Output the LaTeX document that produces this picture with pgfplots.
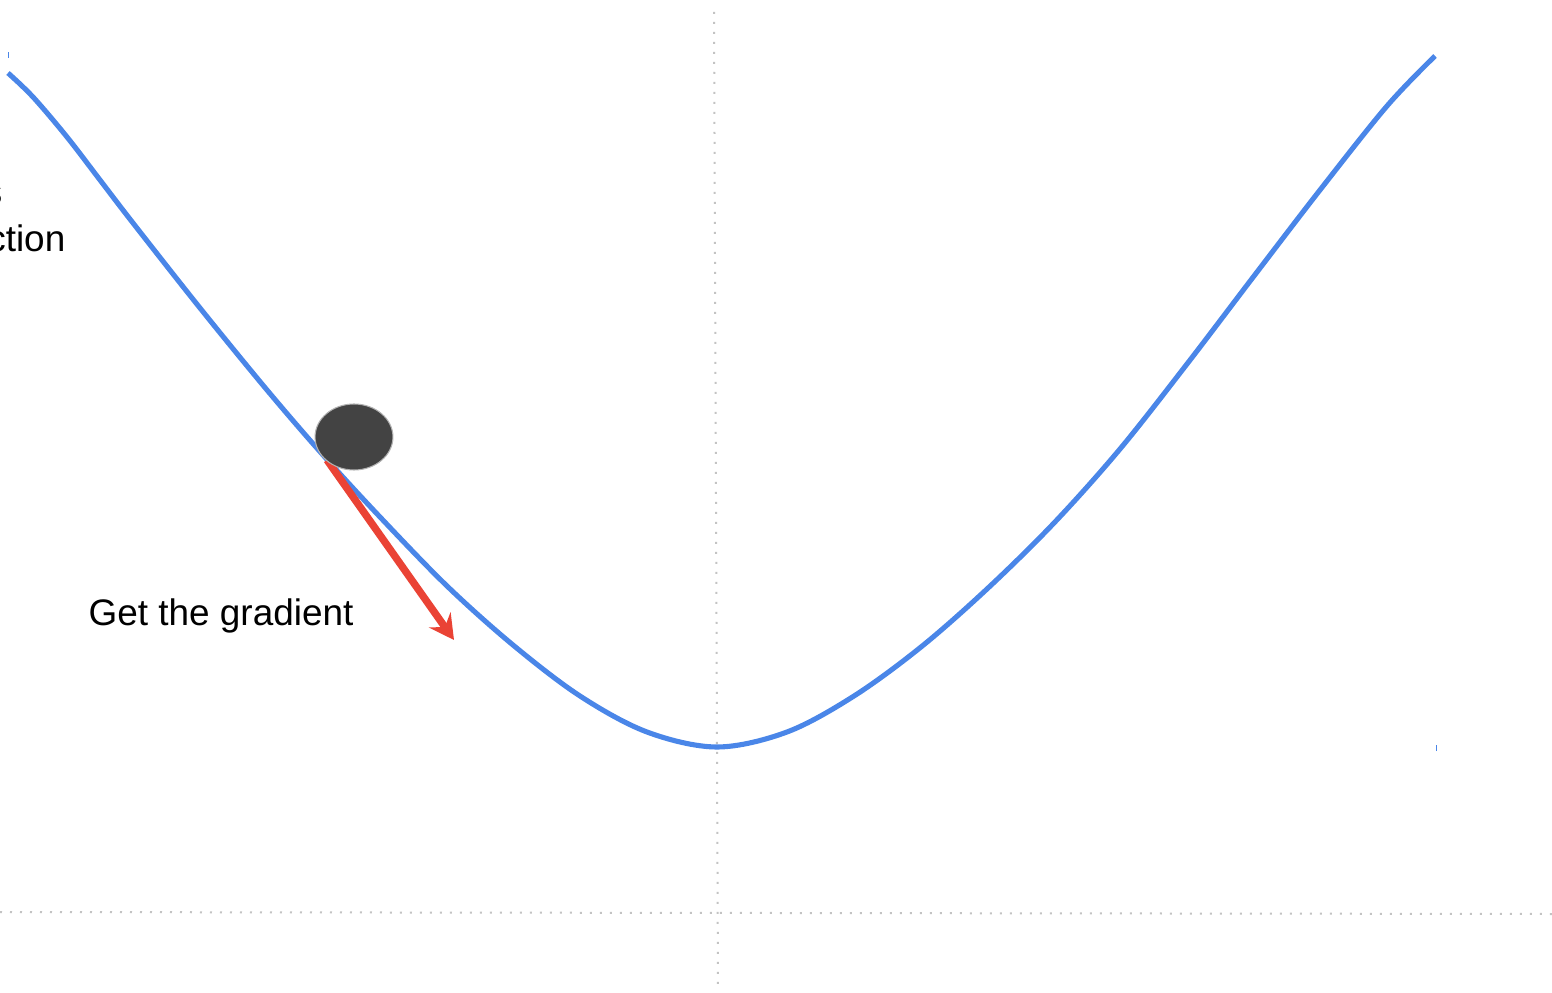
\documentclass[border=0pt]{standalone}
\usepackage{pgfplots}
\pgfplotsset{compat=1.18}
\usetikzlibrary{arrows.meta}
\usepackage{fontspec}
\setmainfont{Liberation Sans}

\definecolor{curveblue}{RGB}{74,134,232}
\definecolor{arrowred}{RGB}{234,67,53}
\definecolor{balldark}{RGB}{67,67,67}
\definecolor{dotgray}{RGB}{195,195,195}

% 1 data unit = 1 px of the reference, y measured upwards
\pgfplotstableread{
x y
8 919
33 895
67 855
100 812
133 769
200 684
267 602
323 537
380 475
447 406
513 347
580 296
647 260
717 245
787 260
854 296
921 345
987 403
1054 469
1120 543
1187 628
1254 716
1320 802
1387 886
1435 936
}\curve

\begin{document}
\begin{tikzpicture}
\useasboundingbox (0,0) rectangle (15.52cm,9.92cm);
\clip (0,0) rectangle (15.52cm,9.92cm);
\begin{axis}[
    at={(0,0)}, anchor=south west,
    width=15.52cm, height=9.92cm, scale only axis,
    xmin=0, xmax=1552, ymin=0, ymax=992,
    hide axis, clip=false,
]
% dotted guide lines
\addplot[dotgray, line width=0.2mm, dash pattern=on 0.2mm off 0.8mm]
    coordinates {(714,980)(718,2)};
\addplot[dotgray, line width=0.2mm, dash pattern=on 0.2mm off 0.8mm]
    coordinates {(0,80)(1552,78)};
% small blue ticks
\addplot[curveblue, line width=0.1mm] coordinates {(8,934)(8,940)};
\addplot[curveblue, line width=0.1mm] coordinates {(1436,241)(1436,247)};
% the curve
\addplot[curveblue, line width=1.45pt, smooth, tension=0.55] table {\curve};
% the ball
\addplot[only marks, mark=*, mark size=3.3mm,
    mark options={xscale=1.18, fill=balldark, draw=black!30, line width=0.3pt}]
    coordinates {(354,555)};
% gradient arrow
\addplot[arrowred, line width=2.1pt,
    -{Stealth[length=7pt, width=7.5pt, inset=2.5pt]}]
    coordinates {(327,532)(454,352)};
\node[anchor=base west, font=\fontsize{10.5pt}{12pt}\selectfont, inner sep=0pt]
    at (axis cs:88,366) {Get the gradient};
\node[anchor=base east, font=\fontsize{10.5pt}{12pt}\selectfont, inner sep=0pt]
    at (axis cs:66,740) {function};
\node[anchor=base east, font=\fontsize{10.5pt}{12pt}\selectfont, inner sep=0pt]
    at (axis cs:3,787) {Loss};
\end{axis}
\end{tikzpicture}
\end{document}
